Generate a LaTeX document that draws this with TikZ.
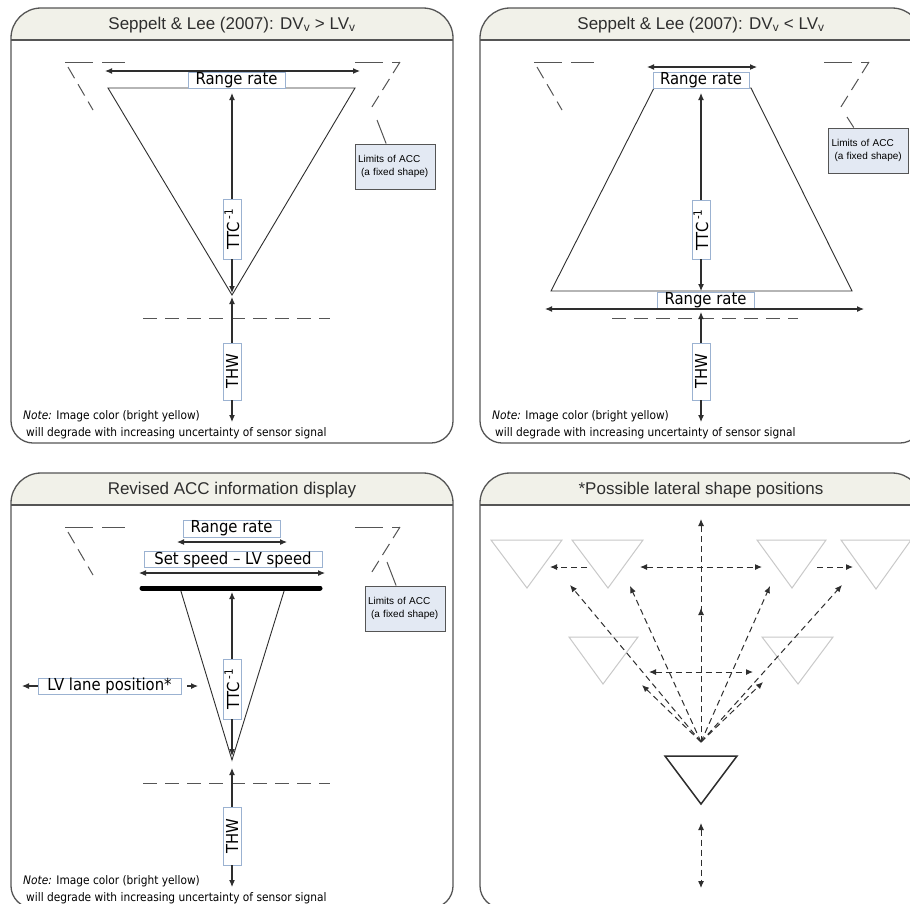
\documentclass[tikz,border=0pt]{standalone}
\usepackage{fontspec}
\setmainfont{Liberation Sans}
\newfontfamily\tagfont[FakeStretch=0.9]{DejaVu Sans}
\usetikzlibrary{arrows.meta}

\definecolor{frame}{HTML}{555555}
\definecolor{headfill}{HTML}{F1F1E9}
\definecolor{tagline}{HTML}{9BB2D1}
\definecolor{notefill}{HTML}{E3E9F3}
\definecolor{ink}{HTML}{2E2E2E}
\definecolor{ghost}{HTML}{C9C9C9}

\tikzset{
  panelframe/.style={draw=frame, line width=1.3pt},
  headband/.style={fill=headfill},
  headtitle/.style={font=\fontsize{17}{20}\selectfont, text=ink, inner sep=0pt},
  tag/.style={draw=tagline, fill=white, line width=0.9pt, inner sep=0pt,
              font=\tagfont\fontsize{16.5}{16.5}\selectfont, text=black},
  vtag/.style={tag, rotate=90, minimum width=#1, minimum height=18pt},
  tip/.tip={Latex[length=7pt,width=6pt]},
  arr/.style={draw=ink, line width=1.1pt, -tip},
  dblarr/.style={draw=ink, line width=1.1pt, tip-tip},
  edge/.style={draw=ink, line width=0.9pt, line join=miter},
  limitmark/.style={draw=frame, line width=1pt, dash pattern=on 28pt off 9pt},
  limitslant/.style={draw=frame, line width=1pt, dash pattern=on 13pt off 7pt},
  gapline/.style={draw=frame, line width=1pt, dash pattern=on 14pt off 8pt},
  callout/.style={draw=frame, fill=notefill, line width=1pt, minimum width=80pt,
                  minimum height=45pt, align=left, text width=74pt, inner sep=3pt,
                  font=\fontsize{10}{12.5}\selectfont},
  leader/.style={draw=frame, line width=1pt},
  note/.style={anchor=north west, align=left, inner sep=0pt,
               font=\tagfont\fontsize{11.8}{17}\selectfont},
  probe/.style={draw=ink, line width=1pt, dash pattern=on 6pt off 4pt, -tip},
  dblprobe/.style={draw=ink, line width=1pt, dash pattern=on 6pt off 4pt, tip-tip},
  ghostshape/.style={draw=ghost, line width=1pt, line join=miter},
  boldshape/.style={draw=ink, line width=1.5pt, line join=miter}
}

% rounded panel with a title band
\newcommand\drawpanel[2]{%
  \path[headband] (0,32) -- (0,30) .. controls (0,13.5) and (13.5,0) .. (30,0)
    -- (412,0) .. controls (428.5,0) and (442,13.5) .. (442,30) -- (442,32) -- cycle;
  \draw[panelframe] (0,32) -- (442,32);
  \draw[panelframe] (0,30) .. controls (0,13.5) and (13.5,0) .. (30,0)
    -- (412,0) .. controls (428.5,0) and (442,13.5) .. (442,30)
    -- (442,413) .. controls (442,425) and (432,435) .. (420,435)
    -- (22,435) .. controls (10,435) and (0,425) .. (0,413) -- cycle;
  \node[headtitle] (#1-title) at (221,17) {#2};
}

% dashed corners of the ACC limits and their callout
\newcommand\drawlimits[5]{%
  \draw[limitmark] (54,54) -- (114,54);
  \draw[limitslant] (57,59) -- (82,102);
  \draw[limitmark] (344,54) -- (389,54);
  \draw[limitslant] (389,54) -- (359,102);
  \node[callout] (#1-callout) at (#2,#3) {Limits of ACC\\\hspace*{3pt}(a fixed shape)};
  \coordinate (#1-limpt) at (#4,#5);
  \draw[leader] (#1-limpt) -- (#1-callout);
}

\newcommand\drawnote[1]{%
  \node[note] (#1-note) at (12,402)
    {\textit{Note:} Image color (bright yellow)\\\hspace*{3pt}will degrade with increasing uncertainty of sensor signal};
}

\begin{document}
\begin{tikzpicture}[x=1pt,y=-1pt]
\useasboundingbox (0,0) rectangle (910,903);
\clip (0,0) rectangle (910,903);
\fill[white] (0,0) rectangle (910,903);

%% ---------- top left: DV > LV ----------
\begin{scope}[shift={(11,8)}]
  \drawpanel{tl}{Seppelt \& Lee (2007): DV\textsubscript{v} > LV\textsubscript{v}}
  \drawlimits{tl}{384}{158.5}{366}{112}
  \draw[edge] (97,80) -- (344,80) -- (221,287) -- cycle;
  \node[tag, minimum width=97pt, minimum height=16pt] (tl-rr) at (225.5,72) {Range rate};
  \coordinate (tl-rrL) at (94,63);
  \coordinate (tl-rrR) at (349,63);
  \draw[dblarr] (tl-rrL) -- (tl-rrR);
  \draw[gapline] (132,310) -- (319,310);
  \node[vtag=60pt] (tl-ttc) at (221,221) {TTC\,\textsuperscript{-1}};
  \node[vtag=57pt] (tl-thw) at (221,363.5) {THW};
  \coordinate (tl-top) at (221,85);
  \coordinate (tl-apex) at (221,285);
  \coordinate (tl-gap) at (221,289);
  \coordinate (tl-low) at (221,414);
  \draw[arr] (tl-ttc) -- (tl-top);
  \draw[arr] (tl-ttc) -- (tl-apex);
  \draw[arr] (tl-thw) -- (tl-gap);
  \draw[arr] (tl-thw) -- (tl-low);
  \drawnote{tl}
\end{scope}

%% ---------- top right: DV < LV ----------
\begin{scope}[shift={(480,8)}]
  \drawpanel{tr}{Seppelt \& Lee (2007): DV\textsubscript{v} < LV\textsubscript{v}}
  \drawlimits{tr}{388.5}{142.5}{367}{109}
  \draw[edge] (174,80) -- (271,80) -- (372,283) -- (71,283) -- cycle;
  \node[tag, minimum width=96pt, minimum height=16pt] (tr-rr) at (221,72) {Range rate};
  \coordinate (tr-rrL) at (167,59);
  \coordinate (tr-rrR) at (277,59);
  \draw[dblarr] (tr-rrL) -- (tr-rrR);
  \draw[gapline] (132,310) -- (318,310);
  \node[tag, minimum width=97pt, minimum height=17pt] (tr-rrb) at (225.5,292.5) {Range rate};
  \coordinate (tr-rrbL) at (65,301);
  \coordinate (tr-rrbR) at (384,301);
  \draw[dblarr] (tr-rrbL) -- (tr-rrbR);
  \node[vtag=59pt] (tr-ttc) at (221,221.5) {TTC\,\textsuperscript{-1}};
  \node[vtag=57pt] (tr-thw) at (221,363.5) {THW};
  \coordinate (tr-top) at (221,85);
  \coordinate (tr-base) at (221,283);
  \coordinate (tr-gap) at (221,304);
  \coordinate (tr-low) at (221,414);
  \draw[arr] (tr-ttc) -- (tr-top);
  \draw[arr] (tr-ttc) -- (tr-base);
  \draw[arr] (tr-thw) -- (tr-gap);
  \draw[arr] (tr-thw) -- (tr-low);
  \drawnote{tr}
\end{scope}

%% ---------- bottom left: revised display ----------
\begin{scope}[shift={(11,473)}]
  \drawpanel{bl}{Revised ACC information display}
  \drawlimits{bl}{394}{135.5}{376}{89}
  \node[tag, minimum width=97pt, minimum height=17pt] (bl-rr) at (220.5,55.5) {Range rate};
  \coordinate (bl-rrL) at (166,69);
  \coordinate (bl-rrR) at (276,69);
  \draw[dblarr] (bl-rrL) -- (bl-rrR);
  \node[tag, minimum width=178pt, minimum height=16pt] (bl-set) at (222,86.5) {Set speed – LV speed};
  \coordinate (bl-setL) at (128,100);
  \coordinate (bl-setR) at (314,100);
  \draw[dblarr] (bl-setL) -- (bl-setR);
  \draw[edge] (169,115) -- (221,287) -- (274,115);
  \draw[draw=black, line width=5pt, line cap=round] (131,115) -- (309,115);
  \draw[gapline] (132,310) -- (319,310);
  \node[vtag=60pt] (bl-ttc) at (221,216) {TTC\,\textsuperscript{-1}};
  \node[vtag=58pt] (bl-thw) at (221,363) {THW};
  \coordinate (bl-top) at (221,119);
  \coordinate (bl-apex) at (221,283);
  \coordinate (bl-gap) at (221,295);
  \coordinate (bl-low) at (221,414);
  \draw[arr] (bl-ttc) -- (bl-top);
  \draw[arr] (bl-ttc) -- (bl-apex);
  \draw[arr] (bl-thw) -- (bl-gap);
  \draw[arr] (bl-thw) -- (bl-low);
  \node[tag, minimum width=143pt, minimum height=16pt] (bl-lv) at (98.5,213) {LV lane position*};
  \coordinate (bl-lvL) at (11,213);
  \coordinate (bl-lvR) at (187,213);
  \draw[arr] (bl-lv) -- (bl-lvL);
  \draw[arr, shorten <=6pt] (bl-lv) -- (bl-lvR);
  \drawnote{bl}
\end{scope}

%% ---------- bottom right: lateral positions ----------
\begin{scope}[shift={(480,473)}]
  \drawpanel{br}{*Possible lateral shape positions}
  % candidate positions
  \draw[ghostshape] (11,67) -- (82,67) -- (47,115) -- cycle;
  \draw[ghostshape] (92,67) -- (163,67) -- (128,115) -- cycle;
  \draw[ghostshape] (277,67) -- (346,67) -- (312,115) -- cycle;
  \draw[ghostshape] (361,67) -- (431,67) -- (396,116) -- cycle;
  \draw[ghostshape] (89,164) -- (158,164) -- (123,211) -- cycle;
  \draw[ghostshape] (282,164) -- (353,164) -- (318,211) -- cycle;
  % current position
  \draw[boldshape] (185,283) -- (257,283) -- (221,331) -- cycle;
  \coordinate (br-o) at (221,269);
  \coordinate (br-up) at (221,46);
  \coordinate (br-mid) at (221,135);
  \coordinate (br-p1) at (90,112);
  \coordinate (br-p2) at (150,113);
  \coordinate (br-p3) at (290,113);
  \coordinate (br-p4) at (362,112);
  \coordinate (br-p5) at (162,212);
  \coordinate (br-p6) at (283,209);
  \draw[probe] (br-o) -- (br-up);
  \draw[probe] (br-o) -- (br-mid);
  \draw[probe] (br-o) -- (br-p1);
  \draw[probe] (br-o) -- (br-p2);
  \draw[probe] (br-o) -- (br-p3);
  \draw[probe] (br-o) -- (br-p4);
  \draw[probe] (br-o) -- (br-p5);
  \draw[probe] (br-o) -- (br-p6);
  \coordinate (br-hL) at (160,94);
  \coordinate (br-hR) at (282,94);
  \draw[dblprobe] (br-hL) -- (br-hR);
  \coordinate (br-sL1) at (107,94);
  \coordinate (br-sL2) at (70,94);
  \draw[probe] (br-sL1) -- (br-sL2);
  \coordinate (br-sR1) at (337,94);
  \coordinate (br-sR2) at (373,94);
  \draw[probe] (br-sR1) -- (br-sR2);
  \coordinate (br-lL) at (169,199);
  \coordinate (br-lR) at (273,199);
  \draw[dblprobe] (br-lL) -- (br-lR);
  \coordinate (br-bT) at (221,350);
  \coordinate (br-bB) at (221,415);
  \draw[dblprobe] (br-bT) -- (br-bB);
\end{scope}
\end{tikzpicture}
\end{document}
